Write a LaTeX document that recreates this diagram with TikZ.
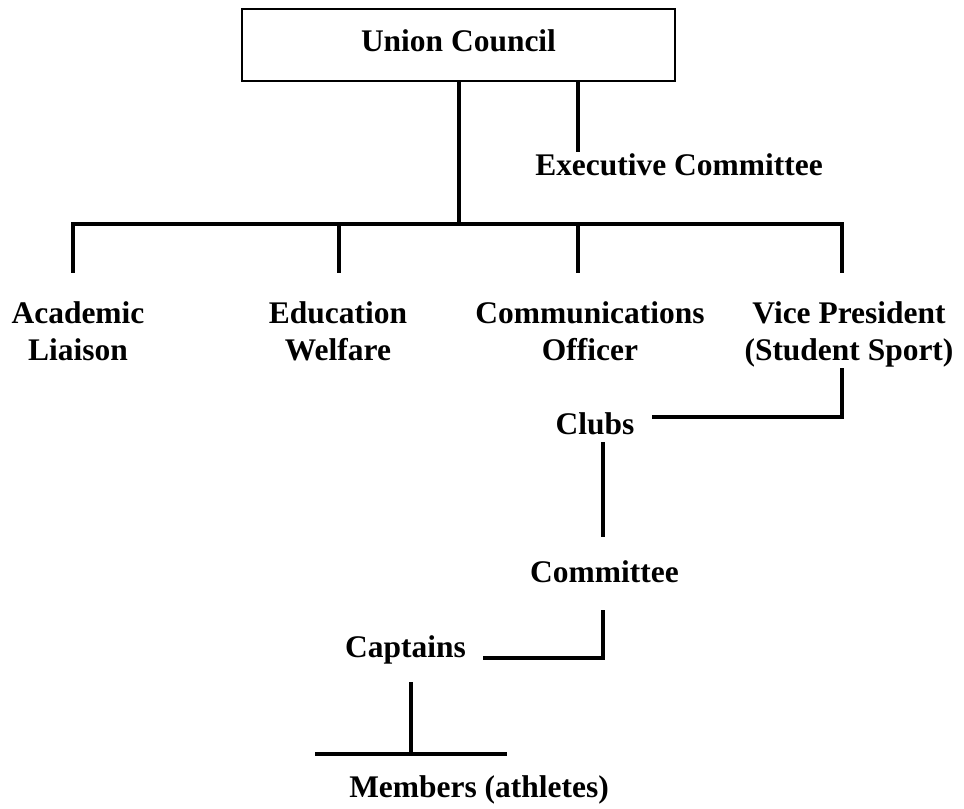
\documentclass[tikz,border=0pt]{standalone}
\usepackage{fontspec}
\setmainfont{Liberation Serif}
\begin{document}
\begin{tikzpicture}[x=0.75pt,y=-0.75pt,
  lbl/.style={font=\fontsize{23.6pt}{27.75pt}\selectfont\bfseries, inner sep=0pt, align=center, anchor=base},
  conn/.style={line width=3pt, black},
  boxnode/.style={draw, line width=1.5pt, font=\fontsize{23.6pt}{27.75pt}\selectfont\bfseries, inner sep=0pt,
    minimum width=324.75pt, minimum height=54pt, text height=15pt, text depth=4.5pt}]
\useasboundingbox (0,0) rectangle (964,809);
% nodes
\node[boxnode] (uc) at (458.5,45) {Union Council};
\node[lbl] (exec) at (679,176) {Executive Committee};
\node[lbl] (acad) at (78,360) {Academic\\Liaison};
\node[lbl] (educ) at (338,360) {Education\\Welfare};
\node[lbl] (comm) at (590,360) {Communications\\Officer};
\node[lbl] (vp) at (849,360) {Vice President\\(Student Sport)};
\node[lbl] (clubs) at (595,434) {Clubs};
\node[lbl] (cmte) at (604.5,582) {Committee};
\node[lbl] (capt) at (405.5,657) {Captains};
\node[lbl] (memb) at (479,797) {Members (athletes)};
% coordinates
\coordinate (ucmid) at (459,81);
\coordinate (ucexec) at (578,81);
\coordinate (execTop) at (578,152);
\coordinate (barL) at (73,224);
\coordinate (barM) at (459,224);
\coordinate (barR) at (842,224);
\coordinate (dA) at (73,273);
\coordinate (dE) at (339,273);
\coordinate (dC) at (578,273);
\coordinate (dV) at (842,273);
\coordinate (vpBot) at (842,368);
\coordinate (vpCorner) at (842,417);
\coordinate (clubsR) at (652,417);
\coordinate (clubsBot) at (603,442);
\coordinate (cmteTop) at (603,537);
\coordinate (cmteBot) at (603,610);
\coordinate (cmteCorner) at (603,658);
\coordinate (captR) at (483,658);
\coordinate (captBot) at (411,682);
\coordinate (membMid) at (411,754);
\coordinate (membL) at (315,754);
\coordinate (membR) at (507,754);
% connectors
\draw[conn] (ucmid) -- (barM);
\draw[conn] (ucexec) -- (execTop);
\draw[conn] (dA) -- (barL) -- (barR) -- (dV);
\draw[conn] (barL -| dE) -- (dE);
\draw[conn] (barL -| dC) -- (dC);
\draw[conn] (vpBot) -- (vpCorner) -- (clubsR);
\draw[conn] (clubsBot) -- (cmteTop);
\draw[conn] (cmteBot) -- (cmteCorner) -- (captR);
\draw[conn] (captBot) -- (membMid);
\draw[conn] (membL) -- (membR);
\end{tikzpicture}
\end{document}
